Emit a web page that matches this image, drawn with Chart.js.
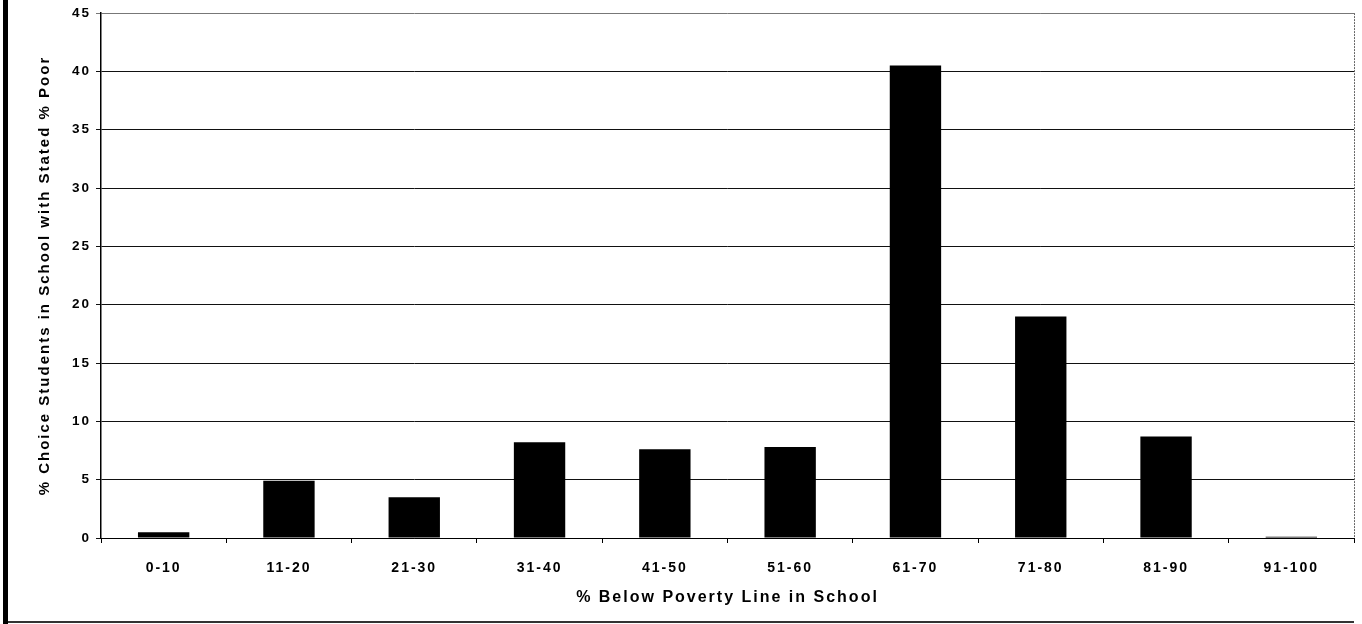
<!DOCTYPE html>
<html>
<head>
<meta charset="utf-8">
<script src="https://cdn.jsdelivr.net/npm/chart.js@4"></script>
<style>
  html, body { margin: 0; padding: 0; background: #fff; }
  #wrap { width: 1362px; height: 624px; position: relative; }
</style>
</head>
<body>
<div id="wrap"><canvas id="c" width="1362" height="624"></canvas></div>
<script>
// Share of choice students by school poverty band
const categories = ['0-10', '11-20', '21-30', '31-40', '41-50', '51-60', '61-70', '71-80', '81-90', '91-100'];
const shareValues = [0.5, 4.9, 3.5, 8.2, 7.6, 7.8, 40.5, 19.0, 8.7, 0.1];
const yTicks = [0, 5, 10, 15, 20, 25, 30, 35, 40, 45];

const FONT = '"Liberation Sans", Arial, Helvetica, sans-serif';

// Page frame: heavy rule on the left, thin rule along the bottom,
// dashed light border on the right of the plot. Text is tracked out a little.
const framePlugin = {
  id: 'frame',
  beforeDraw(chart) {
    chart.ctx.letterSpacing = '2px';
  },
  afterDraw(chart) {
    const ctx = chart.ctx;
    const a = chart.chartArea;
    ctx.save();
    ctx.fillStyle = '#000';
    ctx.fillRect(3, 0, 5, 624);
    ctx.fillStyle = '#333';
    ctx.fillRect(8, 621, 1346, 2);
    ctx.strokeStyle = '#666';
    ctx.lineWidth = 1;
    ctx.setLineDash([2, 1]);
    ctx.beginPath();
    ctx.moveTo(a.right + 0.5, a.top);
    ctx.lineTo(a.right + 0.5, a.bottom);
    ctx.stroke();
    ctx.restore();
  }
};

new Chart(document.getElementById('c'), {
  type: 'bar',
  data: {
    labels: categories,
    datasets: [{
      data: shareValues,
      backgroundColor: '#000',
      borderWidth: 0,
      barPercentage: 0.41,
      categoryPercentage: 1.0
    }]
  },
  options: {
    responsive: false,
    animation: false,
    devicePixelRatio: 1,
    layout: { padding: { top: 12, right: 8, left: 0, bottom: 0 } },
    plugins: { legend: { display: false }, tooltip: { enabled: false } },
    scales: {
      x: {
        afterFit(scale) { scale.height = 86; },
        grid: {
          display: true,
          drawOnChartArea: false,
          drawTicks: true,
          tickLength: 5,
          color: '#000',
          offset: true
        },
        border: { display: true, color: '#000', width: 1 },
        ticks: {
          color: '#000',
          padding: 17,
          font: { family: FONT, size: 14, weight: 'bold' }
        },
        title: {
          display: true,
          text: '% Below Poverty Line in School',
          color: '#000',
          padding: { top: 0, bottom: 17 },
          font: { family: FONT, size: 16, weight: 'bold' }
        }
      },
      y: {
        min: 0,
        max: 45,
        afterFit(scale) { scale.width = 101; },
        afterBuildTicks(scale) { scale.ticks = yTicks.map(v => ({ value: v })); },
        grid: {
          color: ctx => (ctx.tick && ctx.tick.value === 45) ? '#777' : '#111',
          lineWidth: 1,
          drawTicks: true,
          tickLength: 5
        },
        border: { display: true, color: '#000', width: 1.5 },
        ticks: {
          color: '#000',
          padding: 5,
          font: { family: FONT, size: 13.5, weight: 'bold' }
        },
        title: {
          display: true,
          text: '% Choice Students in School with Stated % Poor',
          color: '#000',
          padding: { top: 36, bottom: 0 },
          font: { family: FONT, size: 15, weight: 'bold' }
        }
      }
    }
  },
  plugins: [framePlugin]
});
</script>
</body>
</html>
